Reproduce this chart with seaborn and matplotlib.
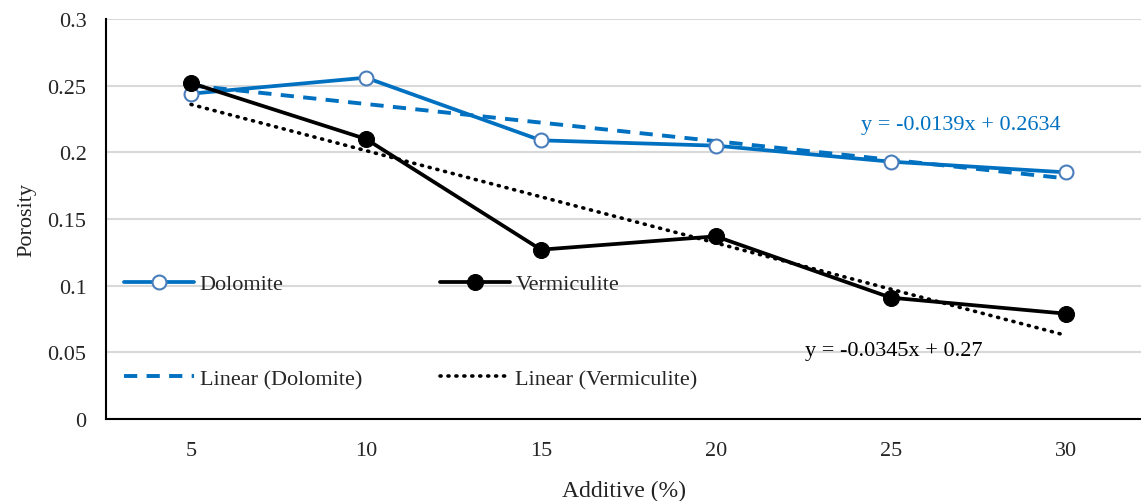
import matplotlib
matplotlib.use("Agg")
import matplotlib.pyplot as plt
import seaborn as sns
import numpy as np

# === DATA ===
additive = [5, 10, 15, 20, 25, 30]
dolomite = [0.244, 0.256, 0.209, 0.205, 0.193, 0.185]
vermiculite = [0.252, 0.210, 0.127, 0.137, 0.091, 0.079]
dolomite_eq = "y = -0.0139x + 0.2634"
vermiculite_eq = "y = -0.0345x + 0.27"

idx = np.arange(1, len(additive) + 1)

sns.set_style("white")
plt.rcParams['font.family'] = ['Liberation Serif', 'DejaVu Serif']

BLUE = "#0070C0"

fig = plt.figure(figsize=(11.41, 5.02), dpi=100)
ax = fig.add_axes([106 / 1141, 82 / 502, 1035 / 1141, 400 / 502])

# === SERIES ===
sns.lineplot(x=idx, y=dolomite, ax=ax, color=BLUE, linewidth=2.7,
             marker="o", markersize=10, markerfacecolor="white",
             markeredgecolor="#4a7ebb", markeredgewidth=1.5, label="Dolomite",
             zorder=4)
sns.lineplot(x=idx, y=vermiculite, ax=ax, color="black", linewidth=2.7,
             marker="o", markersize=11.5, markerfacecolor="black",
             markeredgecolor="black", label="Vermiculite", zorder=4)

# === LINEAR TRENDLINES ===
sns.regplot(x=idx, y=dolomite, ax=ax, scatter=False, ci=None, truncate=True,
            color=BLUE, label="Linear (Dolomite)",
            line_kws=dict(linestyle=(0, (3.4, 2.4)), linewidth=2.8, zorder=3))
sns.regplot(x=idx, y=vermiculite, ax=ax, scatter=False, ci=None, truncate=True,
            color="black", label="Linear (Vermiculite)",
            line_kws=dict(linestyle=(0, (0.3, 1.9)), linewidth=2.6,
                          dash_capstyle="round", zorder=3))

ax.text(4.83, 0.221, dolomite_eq, color=BLUE, fontsize=16, va="center")
ax.text(4.51, 0.0515, vermiculite_eq, color="black", fontsize=16, va="center")

# === AXES ===
ax.set_xlim(1 - 0.486, 6 + 0.43)
ax.set_ylim(0, 0.3)
ax.set_xticks(idx)
ax.set_xticklabels([str(a) for a in additive])
ax.set_yticks([0, 0.05, 0.1, 0.15, 0.2, 0.25, 0.3])
ax.set_yticklabels(["0", "0.05", "0.1", "0.15", "0.2", "0.25", "0.3"])
ax.tick_params(axis="both", length=0, labelsize=16, pad=14)
ax.tick_params(axis="x", pad=16)
ax.grid(axis="y", color="#d9d9d9", linewidth=1.5)
ax.set_axisbelow(True)
for s in ["top", "right"]:
    ax.spines[s].set_visible(False)
for s in ["left", "bottom"]:
    ax.spines[s].set_color("black")
    ax.spines[s].set_linewidth(1.5)

ax.set_xlabel("Additive (%)", fontsize=17, color="#222222", labelpad=14)
ax.set_ylabel("Porosity", fontsize=16, color="#222222", labelpad=8)

handles, labels = ax.get_legend_handles_labels()
order = ["Dolomite", "Linear (Dolomite)", "Vermiculite", "Linear (Vermiculite)"]
hmap = dict(zip(labels, handles))
ax.legend([hmap[o] for o in order], order, ncol=2, loc="upper left",
          bbox_to_anchor=(0.009, 0.385), frameon=False, fontsize=16,
          handlelength=3.15, handletextpad=0.25, columnspacing=3.5,
          labelspacing=3.33, borderaxespad=0)

fig.savefig("out.png", dpi=100)
